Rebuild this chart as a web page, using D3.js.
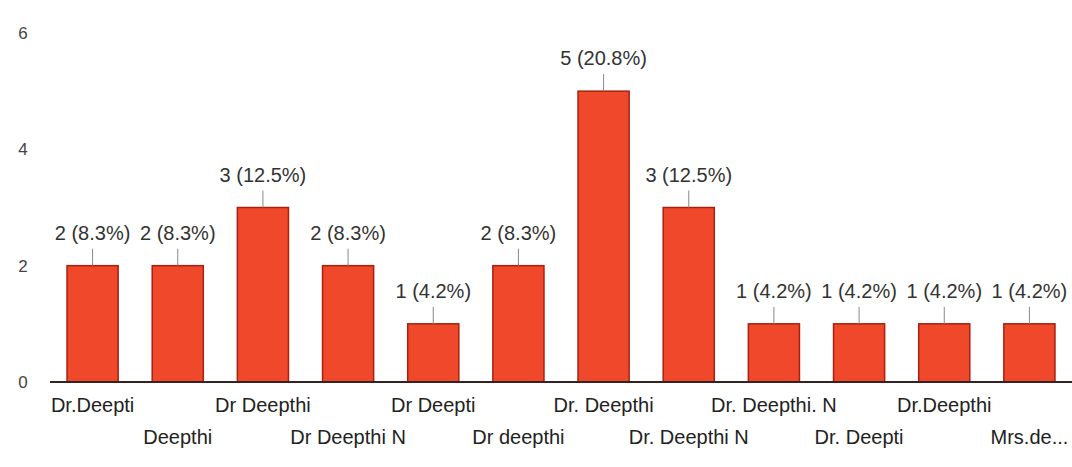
<!DOCTYPE html>
<html><head><meta charset="utf-8">
<script src="https://cdn.jsdelivr.net/npm/d3@7"></script>
<style>body{margin:0;background:#fff}svg{display:block}text{font-family:"Liberation Sans",Arial,sans-serif}</style>
</head><body><svg id="c" width="1072" height="467"></svg>
<script>
const categories = ["Dr.Deepti","Deepthi","Dr Deepthi","Dr Deepthi N","Dr Deepti","Dr deepthi","Dr. Deepthi","Dr. Deepthi N","Dr. Deepthi. N","Dr. Deepti","Dr.Deepthi","Mrs.de..."];
const values = [2,2,3,2,1,2,5,3,1,1,1,1];
const yTicks = [0,2,4,6];
const total = d3.sum(values);

const svg = d3.select("#c");
const x = d3.scaleBand().domain(categories).range([50,1072]).paddingInner(0.4).paddingOuter(0.2);
const y = d3.scaleLinear().domain([0,6]).range([382,33]);

// y tick labels
svg.append("g").selectAll("text").data(yTicks).join("text")
  .attr("x",23).attr("y",d=>y(d)).attr("dy","0.35em").attr("text-anchor","middle")
  .attr("font-size",17).attr("fill","#444").text(d=>d);

// bars
svg.append("g").selectAll("rect").data(values).join("rect")
  .attr("x",(d,i)=>x(categories[i])).attr("width",x.bandwidth())
  .attr("y",d=>y(d)).attr("height",d=>y(0)-y(d))
  .attr("fill","#f0482a").attr("stroke","#a8200f").attr("stroke-width",1.5);

// baseline
svg.append("line").attr("x1",50).attr("x2",1072).attr("y1",y(0)).attr("y2",y(0))
  .attr("stroke","#3a2020").attr("stroke-width",2);

// value labels + connectors
const lg = svg.append("g");
values.forEach((v,i)=>{
  const cx = x(categories[i]) + x.bandwidth()/2;
  const top = y(v);
  lg.append("line").attr("x1",cx).attr("x2",cx).attr("y1",top-17).attr("y2",top)
    .attr("stroke","#888").attr("stroke-width",1);
  lg.append("text").attr("x",cx).attr("y",top-26).attr("text-anchor","middle")
    .attr("font-size",20).attr("fill","#333")
    .text(`${v} (${(v/total*100).toFixed(1)}%)`);
});

// x labels, alternating rows
svg.append("g").selectAll("text").data(categories).join("text")
  .attr("x",d=>x(d)+x.bandwidth()/2).attr("y",(d,i)=> i%2===0 ? 412 : 444)
  .attr("text-anchor","middle").attr("font-size",20).attr("fill","#222").text(d=>d);
</script></body></html>
